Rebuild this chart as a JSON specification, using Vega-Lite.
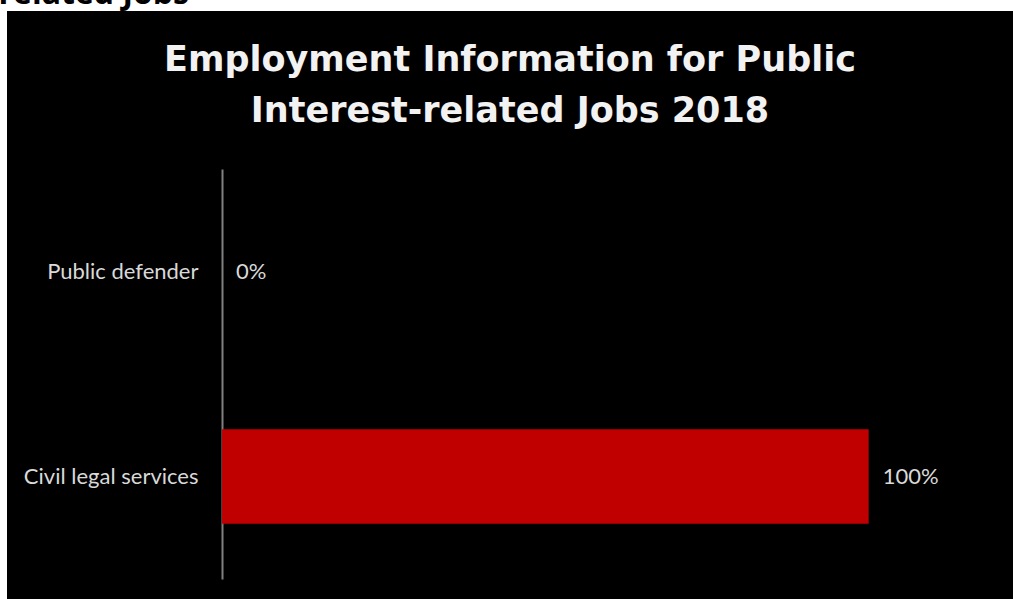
{
  "$schema": "https://vega.github.io/schema/vega-lite/v6.json",
  "autosize": {"type": "none"},
  "width": 1006,
  "height": 588,
  "padding": {"left": 7, "top": 11, "right": 0, "bottom": 0},
  "background": "white",
  "title": {
    "text": ["Employment Information for Public", "Interest-related Jobs 2018"],
    "font": "DejaVu Sans",
    "fontWeight": "bold",
    "fontSize": 35,
    "lineHeight": 51,
    "color": "#f2f2f2",
    "anchor": "middle",
    "frame": "group",
    "baseline": "top",
    "offset": -152
  },
  "data": {
    "values": [
      {"category": "Public defender", "share": 0},
      {"category": "Civil legal services", "share": 1}
    ]
  },
  "encoding": {
    "y": {
      "field": "category",
      "type": "nominal",
      "sort": null,
      "scale": {"range": [158, 568], "paddingInner": 0.538, "paddingOuter": 0.269},
      "axis": {
        "orient": "left",
        "offset": -215,
        "title": null,
        "ticks": false,
        "grid": false,
        "domain": true,
        "domainColor": "#808080",
        "domainWidth": 2,
        "labelFont": "Lato",
        "labelFontSize": 22,
        "labelColor": "#d9d9d9",
        "labelPadding": 24
      }
    },
    "x": {
      "field": "share",
      "type": "quantitative",
      "scale": {"domain": [-0.3325, 1.2232], "nice": false, "zero": false},
      "axis": {
        "orient": "top",
        "labels": false,
        "ticks": false,
        "domain": false,
        "grid": false,
        "title": "related Jobs",
        "titleFont": "Open Sans",
        "titleFontWeight": "bold",
        "titleFontSize": 32,
        "titleColor": "black",
        "titleAnchor": "start",
        "titleAlign": "left",
        "titleBaseline": "alphabetic",
        "titleX": -9,
        "titleY": -8
      }
    }
  },
  "layer": [
    {
      "mark": {"type": "bar", "color": "#c00000"},
      "encoding": {
        "x2": {"datum": 0}
      }
    },
    {
      "mark": {"type": "text", "align": "left", "baseline": "middle", "dx": 14, "font": "Lato", "fontSize": 22, "color": "#d9d9d9"},
      "encoding": {
        "text": {"field": "share", "type": "quantitative", "format": ".0%"}
      }
    }
  ],
  "config": {
    "view": {"fill": "black", "stroke": null}
  }
}
